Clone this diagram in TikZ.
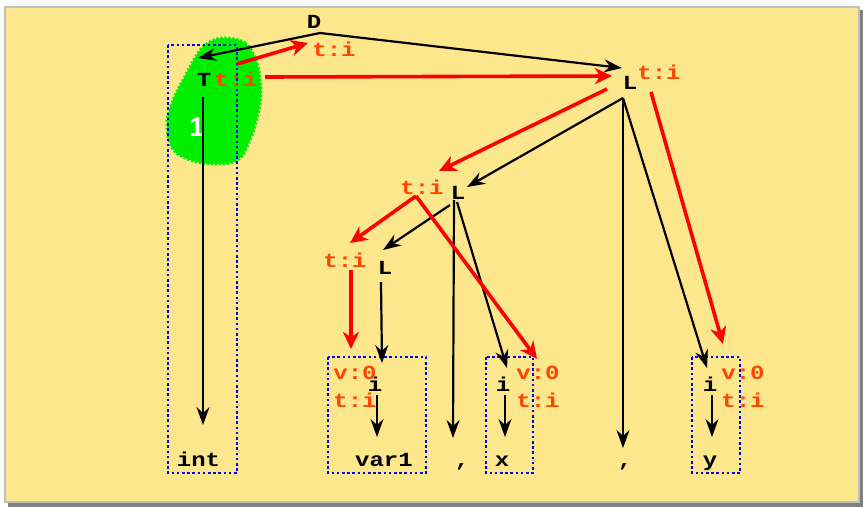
\documentclass[tikz,border=0pt]{standalone}
\usepackage{fontspec}
\usepackage{xcolor}
\usepackage{tikz}
\usetikzlibrary{arrows.meta,calc}
\setsansfont{Liberation Sans}
\newfontfamily\codefont[FakeStretch=1.2]{Liberation Mono}
\newcommand{\codestyle}{\codefont\bfseries\fontsize{20}{22}\selectfont}
\definecolor{paper}{RGB}{253,231,141}
\definecolor{attrred}{RGB}{255,69,0}
\definecolor{flowred}{RGB}{255,0,0}
\definecolor{blobgreen}{RGB}{0,238,0}

\begin{document}
\begin{tikzpicture}[
    x=1pt, y=-1pt,
    sym/.style={font=\codestyle, text height=12pt, text depth=0pt, inner sep=1pt},
    attr/.style={sym, text=attrred},
    edge/.style={-{Stealth[length=18pt, width=13pt, inset=6pt]}, line width=2.2pt},
    flow/.style={-{Stealth[length=17pt, width=16pt, inset=5pt]}, line width=3.6pt, draw=flowred},
    group/.style={draw=blue, line width=2.6pt, dash pattern=on 2.6pt off 2.6pt}
]
    \useasboundingbox (0,0) rectangle (863,507);
    % Sheet with shadow
    \fill[black!50] (8,10) rectangle (862.5,506.5);
    \filldraw[fill=paper, draw=black!25, line width=1.5pt] (5,7) rectangle (859,502);

    % Highlighted region round T
    \filldraw[fill=blobgreen, draw=blobgreen, line width=3pt, dash pattern=on 2pt off 2pt]
        plot[smooth cycle, tension=0.6] coordinates {(222,38) (245,43) (257,63) (261,93) (257,118)
        (250,140) (238,160) (215,164) (190,160) (172,148) (167,122) (173,100) (183,80) (195,58) (205,45)};
    \node[font=\sffamily\bfseries\fontsize{27}{30}\selectfont, text=white, inner sep=0pt] (mark) at (197,127) {1};

    % Groups of leaves
    \draw[group] (168,45) rectangle (237,473);
    \draw[group] (328,357) rectangle (426,473);
    \draw[group] (486,357) rectangle (533,473);
    \draw[group] (692,357) rectangle (740,473);

    % Inner nodes
    \node[sym] (D) at (314,22) {D};
    \node[sym] (T) at (204,80) {T};
    \node[sym] (L1) at (630,83) {L};
    \node[sym] (L2) at (458,193) {L};
    \node[sym] (L3) at (385,268) {L};
    \node[sym] (i1) at (375,385) {i};
    \node[sym] (i2) at (503,385) {i};
    \node[sym] (i3) at (710,385) {i};

    % Leaves
    \node[sym] (int) at (198.5,460) {int};
    \node[sym] (var1) at (384,460) {var1};
    \node[sym] (c1) at (462,460) {,};
    \node[sym] (x) at (502,460) {x};
    \node[sym] (c2) at (625,460) {,};
    \node[sym] (y) at (710,460) {y};

    % Attributes
    \node[attr] (tT) at (236,80) {t:i};
    \node[attr] (tD) at (334,50) {t:i};
    \node[attr] (tL1) at (659,73) {t:i};
    \node[attr] (tL2) at (422,188) {t:i};
    \node[attr] (tL3) at (345,261) {t:i};
    \node[attr] (v1) at (355,373) {v:0};
    \node[attr] (t1) at (355,401) {t:i};
    \node[attr] (v2) at (538,373) {v:0};
    \node[attr] (t2) at (538,401) {t:i};
    \node[attr] (v3) at (743,373) {v:0};
    \node[attr] (t3) at (743,401) {t:i};

    % Tree edges
    \draw[edge] ($(D)+(6,11)$) -- ($(T)+(-6,-22)$);
    \draw[edge] ($(D)+(6,11)$) -- ($(L1)+(-8,-15)$);
    \draw[edge] ($(T)+(-1,17)$) -- ($(int)+(4.5,-35)$);
    \draw[edge] ($(L1)+(-7,15)$) -- ($(L2)+(9,-6)$);
    \draw[edge] ($(L1)+(-7,15)$) -- ($(c2)+(-2,-12)$);
    \draw[edge] ($(L1)+(-7,15)$) -- ($(i3)+(-3,-17)$);
    \draw[edge] ($(L2)+(-8,12)$) -- ($(L3)+(-2,-18)$);
    \draw[edge] ($(L2)+(-4,7)$) -- ($(c1)+(-9,-22)$);
    \draw[edge] ($(L2)+(-1,9)$) -- ($(i2)+(4,-17)$);
    \draw[edge] ($(L3)+(-4,14)$) -- ($(i1)+(7,-22)$);
    \draw[edge] ($(i1)+(2,10)$) -- ($(var1)+(-7,-23)$);
    \draw[edge] ($(i2)+(2,10)$) -- ($(x)+(3,-23)$);
    \draw[edge] ($(i3)+(2,10)$) -- ($(y)+(2,-23)$);

    % Attribute flow
    \draw[flow] ($(tT)+(1,-16)$) -- ($(tD)+(-26,-7)$);
    \draw[flow] ($(tT)+(29,-3)$) -- ($(L1)+(-18,-7)$);
    \draw[flow] ($(L1)+(-23,6)$) -- ($(tL2)+(17,-17)$);
    \draw[flow] ($(tL1)+(-8,19)$) -- ($(v3)+(-20,-29)$);
    \draw[flow] ($(tL2)+(-6,8)$) -- ($(tL3)+(5,-18)$);
    \draw[flow] ($(tL2)+(-6,8)$) -- ($(v2)+(-1,-14)$);
    \draw[flow] ($(tL3)+(6,9)$) -- ($(v1)+(-4,-24)$);
\end{tikzpicture}
\end{document}
